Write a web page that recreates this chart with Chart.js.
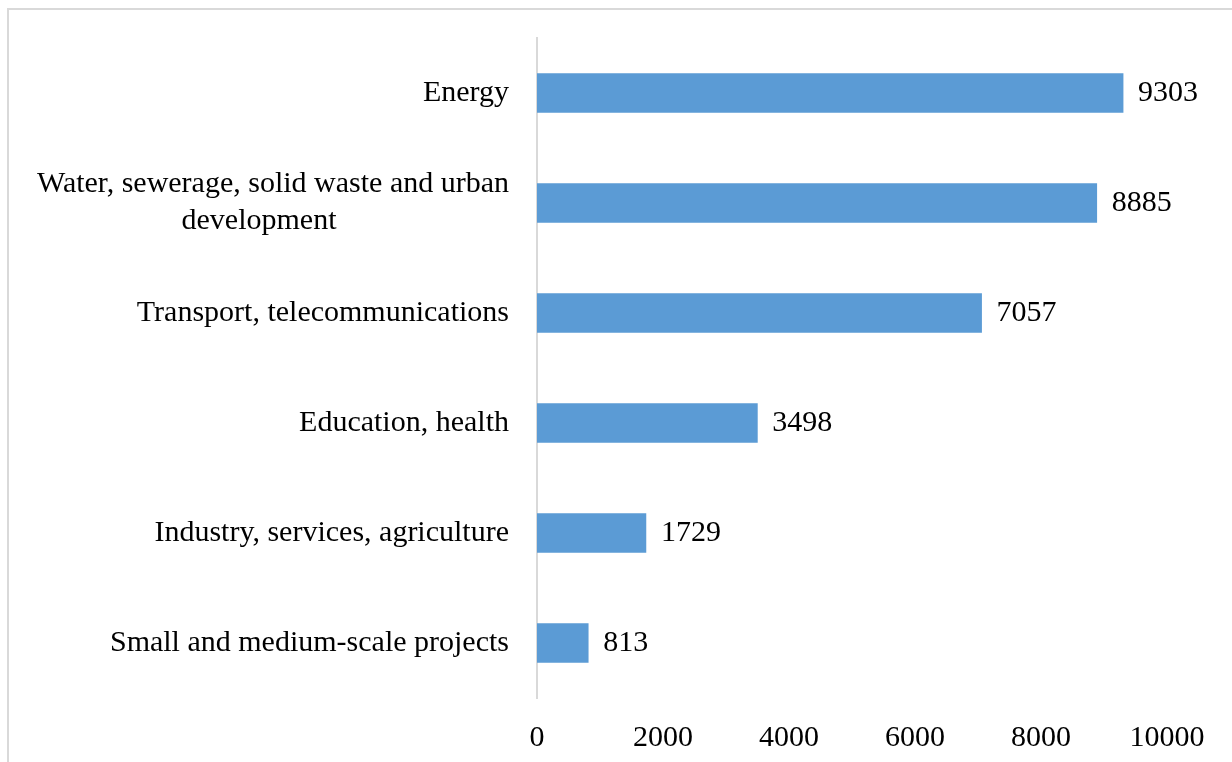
<!DOCTYPE html>
<html>
<head>
<meta charset="utf-8">
<script src="https://cdn.jsdelivr.net/npm/chart.js@4/dist/chart.umd.min.js"></script>
<style>
  html, body { margin: 0; padding: 0; background: #fff; overflow: hidden; }
  #wrap { position: relative; width: 1232px; height: 762px; }
  #frame { position: absolute; left: 7px; top: 8px; width: 1400px; height: 900px;
           border-left: 2px solid #d9d9d9; border-top: 2px solid #d9d9d9; }
  canvas { position: absolute; left: 0; top: 0; }
</style>
</head>
<body>
<div id="wrap">
  <div id="frame"></div>
  <canvas id="c" width="1232" height="762"></canvas>
</div>
<script>
// Sector labels (top to bottom) and amounts
const sectors = [
  'Energy',
  ['Water, sewerage, solid waste and urban', 'development                       '],
  'Transport, telecommunications',
  'Education, health',
  'Industry, services, agriculture',
  'Small and medium-scale projects'
];
const amounts = [9303, 8885, 7057, 3498, 1729, 813];
const xTicks = [0, 2000, 4000, 6000, 8000, 10000];

const FONT = "'Liberation Serif', 'Times New Roman', serif";
const FONT_SIZE = 30;

// Writes each bar's value just past its end
const valueLabels = {
  id: 'valueLabels',
  afterDatasetsDraw(chart) {
    const ctx = chart.ctx;
    const meta = chart.getDatasetMeta(0);
    ctx.save();
    ctx.font = FONT_SIZE + 'px ' + FONT;
    ctx.fillStyle = '#000';
    ctx.textAlign = 'left';
    ctx.textBaseline = 'middle';
    meta.data.forEach((bar, i) => {
      ctx.fillText(String(amounts[i]), bar.x + 15, bar.y);
    });
    ctx.restore();
  }
};

new Chart(document.getElementById('c'), {
  type: 'bar',
  data: {
    labels: sectors,
    datasets: [{
      data: amounts,
      backgroundColor: '#5b9bd5',
      borderWidth: 0,
      barThickness: 39
    }]
  },
  options: {
    indexAxis: 'y',
    responsive: false,
    animation: false,
    devicePixelRatio: 1,
    layout: { padding: { top: 38, right: 65, left: 0, bottom: 0 } },
    plugins: { legend: { display: false }, tooltip: { enabled: false } },
    scales: {
      x: {
        min: 0,
        max: 10000,
        afterBuildTicks(scale) { scale.ticks = xTicks.map(v => ({ value: v })); },
        afterFit(scale) { scale.height = 64; },
        grid: { display: false, drawTicks: false },
        border: { display: false },
        ticks: { color: '#000', padding: 22, maxRotation: 0,
                 callback: v => String(v),
                 font: { family: FONT, size: FONT_SIZE } }
      },
      y: {
        afterFit(scale) {
          scale.width = 537;
          scale.paddingTop = 0;
          scale.paddingBottom = 0;
        },
        grid: { display: false, drawTicks: false },
        border: { display: true, color: '#d9d9d9', width: 2 },
        ticks: { color: '#000', padding: 28, autoSkip: false,
                 font: { family: FONT, size: FONT_SIZE, lineHeight: 1.24 } }
      }
    }
  },
  plugins: [valueLabels]
});
</script>
</body>
</html>
